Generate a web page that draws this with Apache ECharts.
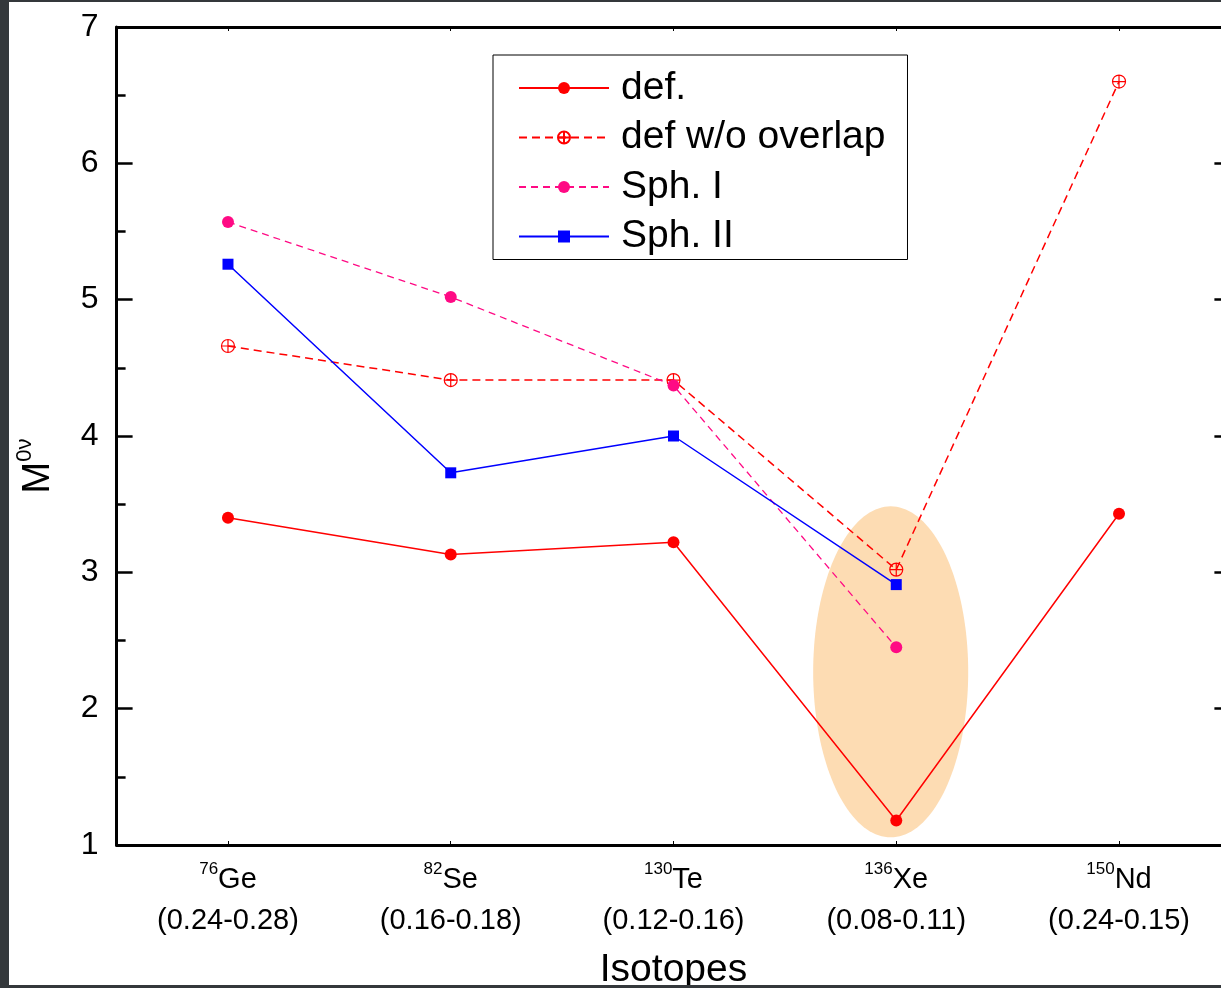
<!DOCTYPE html>
<html><head><meta charset="utf-8">
<script src="https://cdn.jsdelivr.net/npm/echarts@6/dist/echarts.min.js"></script>
<style>
html,body{margin:0;padding:0;background:#34383b;width:1221px;height:988px;overflow:hidden}
#wrap{position:absolute;left:9px;top:2px;width:1212px;height:983px;background:#fff;overflow:hidden}
#chart{width:1212px;height:983px}
</style></head><body><div id="wrap"><div id="chart"></div></div>
<script>
// ---- data ----
const isotopes = ['Ge', 'Se', 'Te', 'Xe', 'Nd'];
const massNumbers = ['76', '82', '130', '136', '150'];
const deformationRanges = ['(0.24-0.28)', '(0.16-0.18)', '(0.12-0.16)', '(0.08-0.11)', '(0.24-0.15)'];
const defValues = [3.40, 3.13, 3.22, 1.18, 3.43];
const defNoOverlap = [4.66, 4.41, 4.41, 3.02, 6.60];
const sphI = [5.57, 5.02, 4.37, 2.45, null];
const sphII = [5.26, 3.73, 4.00, 2.91, null];
const seriesNames = ['def.', 'def w/o overlap', 'Sph. I', 'Sph. II'];
const yMin = 1, yMax = 7, yStep = 1;
// highlighted region around 136Xe (category index, centre value, half extents)
const highlightCategory = 3;
const highlightCenterY = 2.27;
const highlightOffset = -0.025;   // in band widths
const highlightHalfWidth = 0.348; // in band widths
const highlightHalfHeight = 1.214; // in y units

const FONT = '"Liberation Sans", Arial, sans-serif';
const chart = echarts.init(document.getElementById('chart'), null, {renderer: 'canvas'});

const tickCommon = {show: true, inside: true, length: 16, lineStyle: {color: '#000', width: 2.5}};
const minorCommon = {show: true, splitNumber: 2, length: 9, lineStyle: {color: '#000', width: 2.5}};

const option = {
  animation: false,
  backgroundColor: '#fff',
  grid: {left: 107.6, right: -9.4, top: 25, bottom: 140, containLabel: false, outerBoundsMode: 'none'},
  xAxis: [{
    type: 'category', data: isotopes, position: 'bottom', boundaryGap: true,
    axisLine: {show: true, lineStyle: {color: '#000', width: 3}},
    axisTick: {show: true, inside: true, alignWithLabel: true, length: 4, lineStyle: {color: '#000', width: 1}},
    axisLabel: {
      margin: 16, color: '#000', fontFamily: FONT,
      formatter: (v, i) => `{s|${massNumbers[i]}}{b|${v}}\n{p|${deformationRanges[i]}}`,
      rich: {
        s: {fontSize: 17, lineHeight: 20, verticalAlign: 'top', fontFamily: FONT, color: '#000'},
        b: {fontSize: 29, lineHeight: 38, fontFamily: FONT, color: '#000'},
        p: {fontSize: 29, lineHeight: 44, fontFamily: FONT, color: '#000'}
      }
    },
    name: 'Isotopes', nameLocation: 'middle', nameGap: 105, nameMoveOverlap: false,
    nameTextStyle: {fontSize: 39, lineHeight: 40, color: '#000', fontFamily: FONT}
  }, {
    type: 'category', data: isotopes, position: 'top', boundaryGap: true,
    axisLine: {show: true, lineStyle: {color: '#000', width: 3}},
    axisTick: {show: true, inside: true, alignWithLabel: true, length: 4, lineStyle: {color: '#000', width: 1}},
    axisLabel: {show: false}
  }],
  yAxis: [{
    type: 'value', min: yMin, max: yMax, interval: yStep, position: 'left',
    axisLine: {show: true, lineStyle: {color: '#000', width: 3}},
    axisTick: tickCommon, minorTick: minorCommon,
    splitLine: {show: false},
    axisLabel: {fontSize: 32, color: '#000', fontFamily: FONT, margin: 18},
    name: '{m|M}{s|0ν}', nameLocation: 'middle', nameRotate: 90, nameGap: 53, nameMoveOverlap: false,
    nameTextStyle: {
      padding: [0, 60, 0, 0],
      rich: {
        m: {fontSize: 38, lineHeight: 50, fontFamily: FONT, color: '#000'},
        s: {fontSize: 22, lineHeight: 22, verticalAlign: 'top', fontFamily: FONT, color: '#000'}
      }
    }
  }, {
    type: 'value', min: yMin, max: yMax, interval: yStep, position: 'right',
    axisLine: {show: true, lineStyle: {color: '#000', width: 3}},
    axisTick: tickCommon, minorTick: minorCommon,
    splitLine: {show: false}, axisLabel: {show: false}
  }],
  legend: {
    data: seriesNames, orient: 'vertical', left: 484, top: 53,
    itemWidth: 90, itemHeight: 15, itemGap: 9.5,
    padding: [13, 22, 3, 25], borderColor: '#000', borderWidth: 1, backgroundColor: '#fff',
    selectedMode: false,
    textStyle: {fontSize: 39, lineHeight: 40, color: '#000', fontFamily: FONT, padding: [0, 0, 0, 7]}
  },
  series: [{
    type: 'custom', name: 'highlight', silent: true, z: 0,
    data: [[highlightCategory, highlightCenterY]],
    renderItem: (params, api) => {
      const c = api.coord([api.value(0), api.value(1)]);
      const s = api.size([1, 1]);
      const bw = Array.isArray(s) ? s[0] : s;
      const uh = Array.isArray(s) ? s[1] : s;
      const rx = highlightHalfWidth * bw, ry = highlightHalfHeight * uh;
      const cx = c[0] + highlightOffset * bw, cy = c[1];
      const pts = [];
      for (let i = 0; i < 160; i++) {
        const t = i / 160 * 2 * Math.PI;
        pts.push([cx + rx * Math.cos(t), cy + ry * Math.sin(t)]);
      }
      return {type: 'polygon', shape: {points: pts}, style: {fill: '#fddcb3'}};
    }
  }, {
    name: seriesNames[0], type: 'line', data: defValues, z: 5,
    symbol: 'circle', symbolSize: 12,
    lineStyle: {color: '#ff0000', width: 1.5, type: 'solid'},
    itemStyle: {color: '#ff0000'}
  }, {
    name: seriesNames[1], type: 'line', data: defNoOverlap, z: 4,
    symbol: 'path://M10,0A10,10,0,1,1,10,20A10,10,0,1,1,10,0ZM10,0L10,20M0,10L20,10', symbolSize: 13,
    lineStyle: {color: '#ff0000', width: 1.5, type: [8, 5]},
    itemStyle: {color: 'rgba(255,255,255,0)', borderColor: '#ff0000', borderWidth: 1.2}
  }, {
    name: seriesNames[2], type: 'line', data: sphI, z: 4,
    symbol: 'circle', symbolSize: 12,
    lineStyle: {color: '#ff0a84', width: 1.3, type: [7, 5]},
    itemStyle: {color: '#ff0a84'}
  }, {
    name: seriesNames[3], type: 'line', data: sphII, z: 4,
    symbol: 'rect', symbolSize: 11,
    lineStyle: {color: '#0000ff', width: 1.5, type: 'solid'},
    itemStyle: {color: '#0000ff'}
  }]
};
chart.setOption(option);
</script></body></html>
